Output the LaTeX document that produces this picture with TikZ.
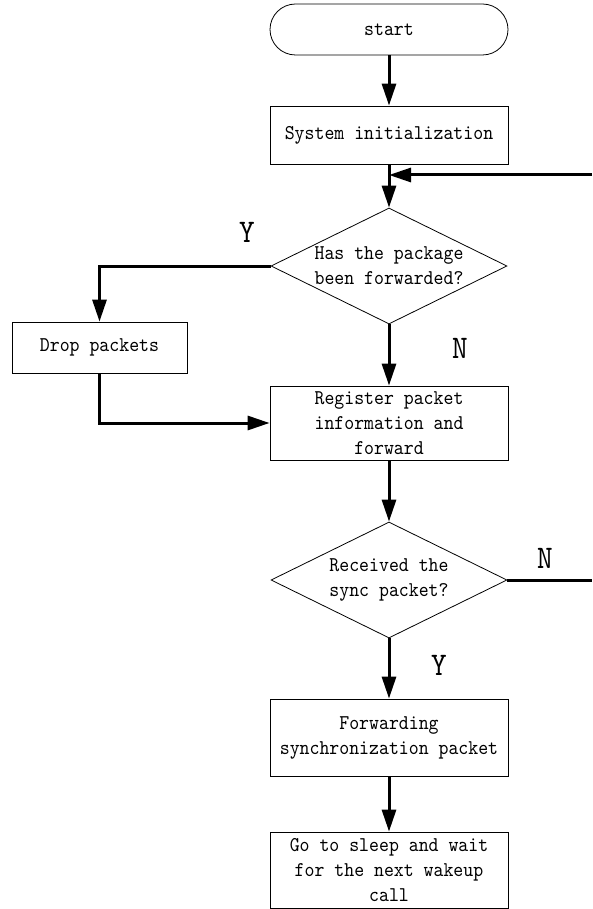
\documentclass[tikz,border=0pt]{standalone}
\usepackage{fontspec}
\usetikzlibrary{arrows.meta,shapes.geometric}

% narrow typewriter face for all labels
\newfontfamily\boxfont{lmmono10-regular.otf}[FakeStretch=0.9]

\tikzset{
  txt/.style={font=\boxfont\fontsize{21}{25}\selectfont, align=center, text=black},
  procbox/.style={txt, draw, line width=0.8pt, minimum width=238pt, inner sep=0pt},
  termbox/.style={procbox, rounded corners=25.5pt, minimum height=51pt},
  decision/.style={txt, draw, line width=0.8pt, diamond, aspect=2, inner sep=0pt,
                   minimum width=236pt, minimum height=116pt},
  flow/.style={line width=3pt},
  arr/.style={flow, -{Triangle[length=22pt,width=14pt]}},
  yn/.style={font=\boxfont\fontsize{33}{33}\selectfont, inner sep=0pt}
}

\begin{document}
\begin{tikzpicture}[x=1pt,y=-1pt]
  % page area
  \path[fill=white, use as bounding box] (0,0) rectangle (592,909);

  % main column
  \node[termbox] (start) at (389,29.5) {start};
  \node[procbox, minimum height=58pt] (init) at (389,135) {System initialization};
  \node[decision] (d1) at (389,266) {Has the package\\been forwarded?};
  \node[procbox, minimum width=175pt, minimum height=51pt] (drop) at (99.5,347.5) {Drop packets};
  \node[procbox, minimum height=74pt] (reg) at (389,423) {Register packet\\information and\\forward};
  \node[decision] (d2) at (389,580) {Received the\\sync packet?};
  \node[procbox, minimum height=77pt] (fwd) at (389,737.5) {Forwarding\\synchronization packet};
  \node[procbox, minimum height=76pt] (sleep) at (389,870) {Go to sleep and wait\\for the next wakeup\\call};

  % branch labels
  \node[yn] (ly1) at (247,232) {Y};
  \node[yn] (ln1) at (460,348) {N};
  \node[yn] (ln2) at (545,558) {N};
  \node[yn] (ly2) at (439,665) {Y};

  % loop ends at the page edge
  \coordinate (back) at (592,175);
  \coordinate (out) at (592,580);

  % connectors
  \draw[arr] (start) -- (init);
  \draw[arr] (init) -- (d1);
  \draw[arr] (back) -- (back -| init.south);
  \draw[arr] (d1.west) -| (drop.north);
  \draw[arr] (drop.south) |- (reg.west);
  \draw[arr] (d1.south) -- (reg.north);
  \draw[arr] (reg) -- (d2);
  \draw[flow] (d2.east) -- (out);
  \draw[arr] (d2.south) -- (fwd.north);
  \draw[arr] (fwd) -- (sleep);
\end{tikzpicture}
\end{document}
